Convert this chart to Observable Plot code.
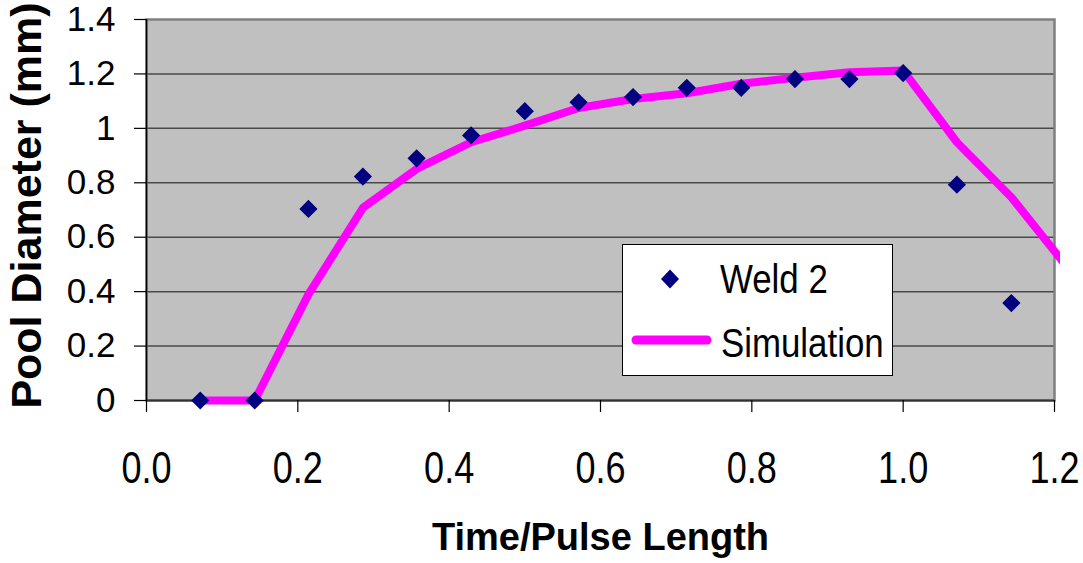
<!DOCTYPE html>
<html>
<head>
<meta charset="utf-8">
<script src="https://cdn.jsdelivr.net/npm/d3@7"></script>
<script src="https://cdn.jsdelivr.net/npm/@observablehq/plot@0.6"></script>
<style>
  html, body { margin: 0; padding: 0; background: white; }
  #wrap { position: relative; width: 1083px; height: 563px; overflow: hidden; }
  #legend { position: absolute; left: 0; top: 0; pointer-events: none; }
</style>
</head>
<body>
<div id="wrap"></div>
<script>
// ---- data ----
const weldX = [0.071, 0.143, 0.214, 0.286, 0.357, 0.429, 0.5, 0.571, 0.643, 0.714, 0.786, 0.857, 0.929, 1.0, 1.071, 1.143];
const weldY = [0, 0, 0.704, 0.823, 0.89, 0.974, 1.063, 1.096, 1.115, 1.149, 1.149, 1.181, 1.181, 1.203, 0.793, 0.358];
const simX = [0.071, 0.143, 0.214, 0.286, 0.357, 0.429, 0.5, 0.571, 0.643, 0.714, 0.786, 0.857, 0.929, 1.0, 1.071, 1.143, 1.214];
const simY = [0, 0, 0.39, 0.708, 0.851, 0.949, 1.01, 1.075, 1.108, 1.129, 1.164, 1.186, 1.206, 1.213, 0.949, 0.747, 0.50];
const xTicks = [0, 0.2, 0.4, 0.6, 0.8, 1.0, 1.2];
const xTickLabels = ["0.0", "0.2", "0.4", "0.6", "0.8", "1.0", "1.2"];
const yTicks = [0, 0.2, 0.4, 0.6, 0.8, 1.0, 1.2, 1.4];
const yTickLabels = ["0", "0.2", "0.4", "0.6", "0.8", "1", "1.2", "1.4"];
const seriesNames = ["Weld 2", "Simulation"];
const xTitle = "Time/Pulse Length";
const yTitle = "Pool Diameter (mm)";

const weld = weldX.map((x, i) => ({x, y: weldY[i]}));
const sim = simX.map((x, i) => ({x, y: simY[i]}));
const xLab = new Map(xTicks.map((d, i) => [d, xTickLabels[i]]));
const yLab = new Map(yTicks.map((d, i) => [d, yTickLabels[i]]));

const chart = Plot.plot({
  width: 1083,
  height: 563,
  marginLeft: 146,
  marginRight: 29,
  marginTop: 19,
  marginBottom: 163,
  style: {fontFamily: "'Liberation Sans', Arial, sans-serif", background: "white", color: "black", overflow: "visible"},
  x: {domain: [0, 1.2], label: null},
  y: {domain: [0, 1.4], label: null},
  marks: [
    Plot.frame({fill: "#c0c0c0"}),
    Plot.gridY(yTicks.filter(d => d > 0 && d < 1.4), {stroke: "#4a4a4a", strokeOpacity: 1, strokeWidth: 1.5}),
    Plot.frame({stroke: "#808080", strokeWidth: 2.5}),
    Plot.ruleY([0], {stroke: "#333", strokeWidth: 2}),
    Plot.ruleX([0], {stroke: "black", strokeWidth: 1.5}),
    Plot.axisY(yTicks, {tickSize: 12, tickPadding: 19, fontSize: 35, stroke: "black", strokeWidth: 1.2, tickFormat: d => yLab.get(d)}),
    Plot.axisX(xTicks, {tickSize: 12, tickPadding: 39, fontSize: 44, stroke: "black", strokeWidth: 1.2, tickFormat: d => xLab.get(d)}),
    Plot.line(sim, {x: "x", y: "y", stroke: "#ff00ff", strokeWidth: 8, strokeLinejoin: "round", clip: "frame"}),
    Plot.dot(weld, {x: "x", y: "y", symbol: "diamond2", r: 8.2, fill: "#000080", stroke: "none"}),
    Plot.text([xTitle], {frameAnchor: "bottom", lineAnchor: "top", dy: 123, fontSize: 38, fontWeight: "bold", fill: "black"}),
    Plot.text([yTitle], {frameAnchor: "left", textAnchor: "middle", rotate: -90, lineAnchor: "middle", dx: -119, dy: -4.5, fontSize: 43, fontWeight: "bold", fill: "black"})
  ]
});

// narrow the x tick labels (the reference uses a condensed face)
chart.querySelectorAll('[aria-label="x-axis tick label"] text').forEach(t => {
  const tr = t.getAttribute("transform") || "";
  t.setAttribute("transform", tr + " scale(0.82,1)");
});
// let the thick line overhang the bottom of the frame, as in the reference
chart.querySelectorAll('clipPath rect').forEach(r => {
  const y = +r.getAttribute("y"), h = +r.getAttribute("height"), w = +r.getAttribute("width");
  r.setAttribute("y", y - 10);
  r.setAttribute("height", h + 20);
  r.setAttribute("width", w + 6);
});

const wrap = document.getElementById("wrap");
wrap.appendChild(chart);

// legend overlay
const ns = "http://www.w3.org/2000/svg";
const lg = document.createElementNS(ns, "svg");
lg.setAttribute("id", "legend");
lg.setAttribute("width", 1083);
lg.setAttribute("height", 563);
lg.innerHTML = `
  <rect x="622.5" y="244.5" width="270" height="131" fill="white" stroke="black" stroke-width="1"/>
  <path d="M670,269.5 L679,279 L670,288.5 L661,279 Z" fill="#000080"/>
  <line x1="636" y1="340" x2="707" y2="340" stroke="#ff00ff" stroke-width="9" stroke-linecap="round"/>
  <text transform="translate(720,293) scale(0.85,1)" font-family="'Liberation Sans', Arial, sans-serif" font-size="41" fill="black">${seriesNames[0]}</text>
  <text transform="translate(721,357) scale(0.85,1)" font-family="'Liberation Sans', Arial, sans-serif" font-size="41" fill="black">${seriesNames[1]}</text>
`;
wrap.appendChild(lg);
</script>
</body>
</html>
